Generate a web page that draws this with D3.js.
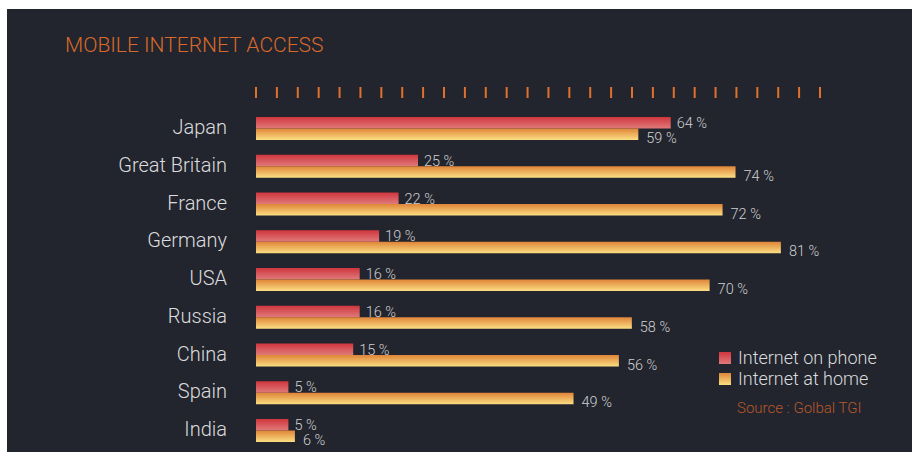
<!DOCTYPE html>
<html>
<head>
<meta charset="utf-8">
<script src="https://cdn.jsdelivr.net/npm/d3@7"></script>
<style>
  body { margin: 0; background: #fff; }
  text { font-family: Roboto, "DejaVu Sans", sans-serif; font-weight: 300; }
</style>
</head>
<body>
<script>
// data
var countries = ["Japan", "Great Britain", "France", "Germany", "USA", "Russia", "China", "Spain", "India"];
var phoneValues = [64, 25, 22, 19, 16, 16, 15, 5, 5];
var homeValues = [59, 74, 72, 81, 70, 58, 56, 49, 6];
var seriesNames = ["Internet on phone", "Internet at home"];
var tickCount = 28;

var width = 912, height = 452;

var svg = d3.select("body").append("svg")
    .attr("width", width)
    .attr("height", height);

// gradients
var defs = svg.append("defs");
var gPhone = defs.append("linearGradient").attr("id", "gPhone")
    .attr("x1", 0).attr("y1", 0).attr("x2", 0).attr("y2", 1);
gPhone.append("stop").attr("offset", "0%").attr("stop-color", "#cf363d");
gPhone.append("stop").attr("offset", "100%").attr("stop-color", "#e07a7a");
var gHome = defs.append("linearGradient").attr("id", "gHome")
    .attr("x1", 0).attr("y1", 0).attr("x2", 0).attr("y2", 1);
gHome.append("stop").attr("offset", "0%").attr("stop-color", "#df8438");
gHome.append("stop").attr("offset", "100%").attr("stop-color", "#fbde82");

// background panel
svg.append("rect")
    .attr("x", 7).attr("y", 9)
    .attr("width", width - 7).attr("height", height - 9)
    .attr("fill", "#22252d");

// title
svg.append("text")
    .attr("x", 65).attr("y", 52)
    .attr("fill", "#d8692b")
    .style("font-size", "21px")
    .text("MOBILE INTERNET ACCESS");

// scales
var xScale = d3.scaleLinear().domain([0, 100]).range([256, 256 + 648]);
var yScale = d3.scaleBand().domain(countries).range([117, 117 + 37.75 * countries.length]);
var tickScale = d3.scaleLinear().domain([0, tickCount - 1]).range([256, 820]);
var barH = 11.5;

// decorative ticks
svg.append("g").selectAll("rect")
    .data(d3.range(tickCount))
    .enter().append("rect")
    .attr("x", function (d) { return tickScale(d) - 1; })
    .attr("y", 87)
    .attr("width", 2)
    .attr("height", 11)
    .attr("fill", "#e0702c");

var rows = svg.append("g").selectAll("g")
    .data(countries)
    .enter().append("g")
    .attr("transform", function (d) { return "translate(0," + yScale(d) + ")"; });

// country labels
rows.append("text")
    .attr("x", 227).attr("y", 17)
    .attr("text-anchor", "end")
    .attr("fill", "#dcdcde")
    .style("font-size", "20px")
    .text(function (d) { return d; });

// phone bars
rows.append("rect")
    .attr("x", xScale(0))
    .attr("y", 0)
    .attr("width", function (d, i) { return xScale(phoneValues[i]) - xScale(0); })
    .attr("height", barH)
    .attr("fill", "url(#gPhone)");

// home bars
rows.append("rect")
    .attr("x", xScale(0))
    .attr("y", barH)
    .attr("width", function (d, i) { return xScale(homeValues[i]) - xScale(0); })
    .attr("height", barH)
    .attr("fill", "url(#gHome)");

// value labels
rows.append("text")
    .attr("x", function (d, i) { return xScale(phoneValues[i]) + 6; })
    .attr("y", barH - 0.5)
    .attr("fill", "#cfcfd2")
    .style("font-size", "14.5px")
    .text(function (d, i) { return phoneValues[i] + " %"; });

rows.append("text")
    .attr("x", function (d, i) { return xScale(homeValues[i]) + 8; })
    .attr("y", barH * 2 + 3)
    .attr("fill", "#cfcfd2")
    .style("font-size", "14.5px")
    .text(function (d, i) { return homeValues[i] + " %"; });

// legend
var legend = svg.append("g").attr("transform", "translate(719,352)");
legend.selectAll("rect")
    .data(seriesNames)
    .enter().append("rect")
    .attr("x", 0)
    .attr("y", function (d, i) { return i * 21; })
    .attr("width", 12).attr("height", 12)
    .attr("fill", function (d, i) { return i === 0 ? "url(#gPhone)" : "url(#gHome)"; });
legend.selectAll("text")
    .data(seriesNames)
    .enter().append("text")
    .attr("x", 19)
    .attr("y", function (d, i) { return i * 21 + 12; })
    .attr("fill", "#dcdcde")
    .style("font-size", "18px")
    .text(function (d) { return d; });

svg.append("text")
    .attr("x", 737).attr("y", 413)
    .attr("fill", "#b8582a")
    .style("font-size", "15px")
    .text("Source : Golbal TGI");
</script>
</body>
</html>
